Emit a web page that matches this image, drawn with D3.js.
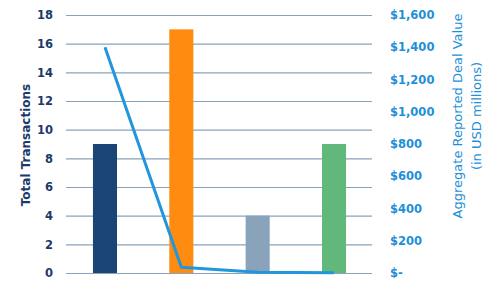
<!DOCTYPE html>
<html>
<head>
<meta charset="utf-8">
<script src="https://cdn.jsdelivr.net/npm/d3@7"></script>
<style>
  body { margin: 0; background: #fff; }
  svg { display: block; }
</style>
</head>
<body>
<div id="chart"></div>
<script>
// chart data
const categories = ["A", "B", "C", "D"];
const transactions = [9, 17, 4, 9];
const dealValue = [1400, 35, 5, 2];
const leftTicks = [0, 2, 4, 6, 8, 10, 12, 14, 16, 18];
const rightTicks = [0, 200, 400, 600, 800, 1000, 1200, 1400, 1600];
const barColors = ["#1a4575", "#ff8c11", "#88a3ba", "#62b77b"];

const W = 493, H = 288;
const margin = {top: 15, right: 121, bottom: 15, left: 67};
const width = W - margin.left - margin.right,
    height = H - margin.top - margin.bottom;

const svg = d3.select("#chart").append("svg")
    .attr("width", W)
    .attr("height", H);
const g = svg.append("g")
    .attr("transform", "translate(" + margin.left + "," + margin.top + ")");

let x = d3.scaleBand()
    .domain(categories)
    .range([0, width])
    .paddingInner(0.685)
    .paddingOuter(0.34);

let yL = d3.scaleLinear().domain([0, 18]).range([height, 0]);
let yR = d3.scaleLinear().domain([0, 1600]).range([height, 0]);

// gridlines
g.selectAll(".grid")
    .data(leftTicks)
    .enter()
    .append("line")
    .attr("x1", -1)
    .attr("x2", width)
    .attr("y1", d => yL(d) + 0.5)
    .attr("y2", d => yL(d) + 0.5)
    .attr("stroke", "#8aa2bb")
    .attr("stroke-width", 1.2);

// bars
g.selectAll(".bar")
    .data(transactions)
    .enter()
    .append("rect")
    .attr("x", (d, i) => x(categories[i]))
    .attr("y", d => yL(d))
    .attr("width", x.bandwidth())
    .attr("height", d => height - yL(d))
    .attr("fill", (d, i) => barColors[i]);

// line
let line = d3.line()
    .x((d, i) => x(categories[i]) + x.bandwidth() / 2)
    .y(d => yR(d));
g.append("path")
    .datum(dealValue)
    .attr("d", line)
    .attr("fill", "none")
    .attr("stroke", "#2196dc")
    .attr("stroke-width", 3)
    .attr("stroke-linejoin", "round");

// left axis
let leftAxis = d3.axisLeft(yL).tickValues(leftTicks).tickSize(0).tickPadding(14);
let gl = g.append("g").call(leftAxis);
gl.select(".domain").remove();
gl.selectAll("text")
    .attr("fill", "#1b3a6b")
    .style("font-family", "DejaVu Sans")
    .style("font-weight", "bold")
    .style("font-size", "11.5px");

// right axis
let fmt = d => d === 0 ? "$-" : "$" + d3.format(",")(d);
let rightAxis = d3.axisRight(yR).tickValues(rightTicks).tickFormat(fmt).tickSize(0).tickPadding(18);
let gr = g.append("g")
    .attr("transform", "translate(" + width + ",0)")
    .call(rightAxis);
gr.select(".domain").remove();
gr.selectAll("text")
    .attr("fill", "#1e8fd8")
    .style("font-family", "DejaVu Sans")
    .style("font-weight", "bold")
    .style("font-size", "11.5px");

// axis titles
svg.append("text")
    .attr("transform", "translate(30,145) rotate(-90)")
    .attr("text-anchor", "middle")
    .attr("fill", "#1b3a6b")
    .style("font-family", "DejaVu Sans")
    .style("font-weight", "bold")
    .style("font-size", "12px")
    .text("Total Transactions");

let rt = svg.append("text")
    .attr("transform", "translate(462,116) rotate(-90)")
    .attr("text-anchor", "middle")
    .attr("fill", "#1e8fd8")
    .style("font-family", "DejaVu Sans")
    .style("font-size", "13px");
rt.append("tspan").attr("x", 0).attr("dy", 0).text("Aggregate Reported Deal Value");
rt.append("tspan").attr("x", 0).attr("dy", 19).text("(in USD millions)");
</script>
</body>
</html>
